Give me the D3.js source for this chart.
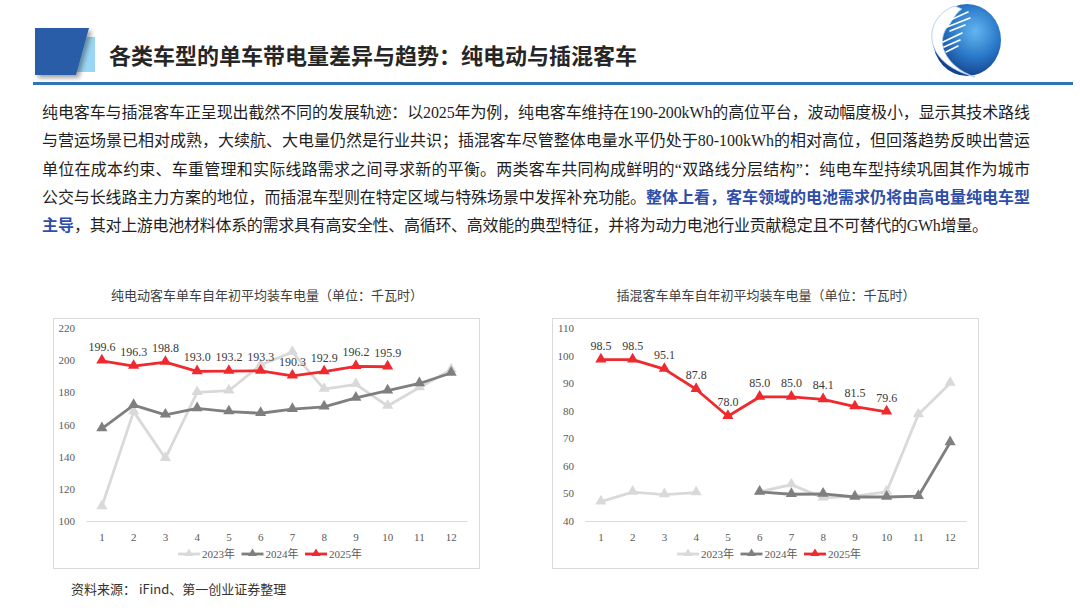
<!DOCTYPE html>
<html>
<head>
<meta charset="utf-8">
<script src="https://cdn.jsdelivr.net/npm/d3@7"></script>
<style>
  body { margin: 0; background: #fff; }
  svg text { font-family: "Liberation Serif", "Noto Sans CJK SC", serif; }
</style>
</head>
<body>
<svg id="page" width="1080" height="608"></svg>
<script>
// ---------- data ----------
const months = ['1', '2', '3', '4', '5', '6', '7', '8', '9', '10', '11', '12'];
const yearNames = ['2023年', '2024年', '2025年'];
const yearColors = ['#d9d9d9', '#7f7f7f', '#ee2a2e'];

// pure electric buses (kWh)
const bevTicks = [100, 120, 140, 160, 180, 200, 220];
const bev2023 = [109, 168, 139, 180, 181, 197, 205, 182, 185, 171.5, 183, 194];
const bev2024 = [157.5, 172, 166, 170, 168, 167, 169.5, 171, 176.5, 181, 185.5, 192];
const bev2025 = [199.6, 196.3, 198.8, 193.0, 193.2, 193.3, 190.3, 192.9, 196.2, 195.9, null, null];

// plug-in hybrid buses (kWh)
const phevTicks = [40, 50, 60, 70, 80, 90, 100, 110];
const phev2023 = [47, 50.5, 49.6, 50.3, null, 50.6, 53.2, 48.4, 49, 50.6, 78.6, 90];
const phev2024 = [null, null, null, null, null, 50.5, 49.7, 49.8, 48.7, 48.7, 49, 68.5];
const phev2025 = [98.5, 98.5, 95.1, 87.8, 78.0, 85.0, 85.0, 84.1, 81.5, 79.6, null, null];

const pageTitle = '各类车型的单车带电量差异与趋势：纯电动与插混客车';
const paragraphLines = [
  '纯电客车与插混客车正呈现出截然不同的发展轨迹：以2025年为例，纯电客车维持在190-200kWh的高位平台，波动幅度极小，显示其技术路线',
  '与营运场景已相对成熟，大续航、大电量仍然是行业共识；插混客车尽管整体电量水平仍处于80-100kWh的相对高位，但回落趋势反映出营运',
  '单位在成本约束、车重管理和实际线路需求之间寻求新的平衡。两类客车共同构成鲜明的“双路线分层结构”：纯电车型持续巩固其作为城市',
  '公交与长线路主力方案的地位，而插混车型则在特定区域与特殊场景中发挥补充功能。'
];
const highlightA = '整体上看，客车领域的电池需求仍将由高电量纯电车型';
const highlightB = '主导';
const lastLine = '，其对上游电池材料体系的需求具有高安全性、高循环、高效能的典型特征，并将为动力电池行业贡献稳定且不可替代的GWh增量。';
const sourceNote = '资料来源： iFind、第一创业证券整理';

const svg = d3.select('#page');
const cjk = '"Noto Sans CJK SC", sans-serif';
const serifCjk = '"Liberation Serif", "Noto Sans CJK SC", serif';

// ---------- header ----------
const defs = svg.append('defs');
const shadow = defs.append('filter').attr('id', 'shadow')
  .attr('x', '-20%').attr('y', '-20%').attr('width', '150%').attr('height', '150%');
shadow.append('feDropShadow')
  .attr('dx', 3).attr('dy', 3).attr('stdDeviation', 2)
  .attr('flood-color', '#000').attr('flood-opacity', 0.35);

svg.append('rect')
  .attr('x', 77).attr('y', 37).attr('width', 18).attr('height', 35)
  .attr('fill', '#9ad5f4');
svg.append('path')
  .attr('d', 'M35,28 L89,28 L76,75 L35,75 Z')
  .attr('fill', '#2a5da7')
  .attr('filter', 'url(#shadow)');

svg.append('text')
  .attr('x', 109).attr('y', 64)
  .style('font-family', cjk)
  .style('font-size', '22px')
  .style('font-weight', 700)
  .attr('fill', '#262626')
  .text(pageTitle);

svg.append('rect')
  .attr('x', 33).attr('y', 82).attr('width', 1040).attr('height', 3)
  .attr('fill', '#2e75b6');

// logo: blue globe with white crescent
const globe = defs.append('radialGradient').attr('id', 'globe')
  .attr('cx', '62%').attr('cy', '38%').attr('r', '65%');
globe.append('stop').attr('offset', '0%').attr('stop-color', '#62b6f0');
globe.append('stop').attr('offset', '55%').attr('stop-color', '#2a78c8');
globe.append('stop').attr('offset', '100%').attr('stop-color', '#153f8a');
svg.append('ellipse')
  .attr('cx', 967).attr('cy', 40).attr('rx', 34).attr('ry', 36)
  .attr('fill', 'url(#globe)');
svg.append('path')
  .attr('d', 'M955,6 C924,16 918,62 975,77 C944,66 934,40 950,24 C953,19 956,13 962,9 Z')
  .attr('fill', '#ffffff')
  .attr('stroke', '#9cc9ee').attr('stroke-width', 0.8);
svg.append('g')
  .attr('stroke', '#ffffff').attr('stroke-width', 1.6).attr('fill', 'none')
  .attr('stroke-linecap', 'round')
  .selectAll('path')
  .data(['M946,22 L968,12', 'M947,27 L970,18', 'M950,31 L965,25',
         'M943,42 L962,33', 'M944,47 L960,40', 'M946,52 L958,46'])
  .join('path')
  .attr('d', d => d);

// ---------- paragraph ----------
const paraX = 42, paraRight = 1030, lineGap = 28.3, firstBase = 118;
const para = svg.append('g')
  .style('font-family', serifCjk)
  .style('font-size', '16px')
  .attr('fill', '#1f1f1f');

paragraphLines.slice(0, 3).forEach((t, i) => {
  para.append('text')
    .attr('x', paraX).attr('y', firstBase + i * lineGap)
    .attr('textLength', paraRight - paraX)
    .attr('lengthAdjust', 'spacing')
    .text(t);
});
para.append('text')
  .attr('x', paraX).attr('y', firstBase + 3 * lineGap)
  .attr('textLength', 646 - paraX)
  .attr('lengthAdjust', 'spacing')
  .text(paragraphLines[3]);
para.append('text')
  .attr('x', 646).attr('y', firstBase + 3 * lineGap)
  .attr('textLength', paraRight - 646)
  .attr('lengthAdjust', 'spacing')
  .attr('fill', '#2f4ea8')
  .style('font-weight', 700)
  .text(highlightA);
para.append('text')
  .attr('x', paraX).attr('y', firstBase + 4 * lineGap)
  .attr('fill', '#2f4ea8')
  .style('font-weight', 700)
  .text(highlightB);
para.append('text')
  .attr('x', 74).attr('y', firstBase + 4 * lineGap)
  .attr('textLength', 988 - 74)
  .attr('lengthAdjust', 'spacing')
  .text(lastLine);

// ---------- chart class ----------
class MonthlyLineChart {

  constructor(_config, series) {
    this.config = {
      parent: _config.parent,
      left: _config.left,
      top: _config.top,
      containerWidth: 426,
      containerHeight: 250,
      title: _config.title,
      yDomain: _config.yDomain,
      yTicks: _config.yTicks,
      margin: { top: 10, right: 12, bottom: 47, left: 33 }
    };
    this.series = series;
    this.initVis();
  }

  initVis() {
    let vis = this;
    const c = vis.config;

    c.width = c.containerWidth - c.margin.left - c.margin.right;
    c.height = c.containerHeight - c.margin.top - c.margin.bottom;

    vis.root = c.parent.append('g')
      .attr('transform', `translate(${c.left},${c.top})`);

    // light frame round the chart
    vis.root.append('rect')
      .attr('x', 0.5).attr('y', 0.5)
      .attr('width', c.containerWidth).attr('height', c.containerHeight)
      .attr('fill', '#fff')
      .attr('stroke', '#d9d9d9');

    vis.root.append('text')
      .attr('x', c.containerWidth / 2 + 1)
      .attr('y', -18)
      .attr('text-anchor', 'middle')
      .style('font-family', cjk)
      .style('font-size', '13px')
      .attr('fill', '#404040')
      .text(c.title);

    vis.chart = vis.root.append('g')
      .attr('transform', `translate(${c.margin.left},${c.margin.top})`);

    vis.xScale = d3.scaleBand()
      .domain(months)
      .range([0, c.width]);
    vis.yScale = d3.scaleLinear()
      .domain(c.yDomain)
      .range([c.height, 0]);

    vis.xAxis = d3.axisBottom(vis.xScale).tickSize(0).tickPadding(12);
    vis.yAxis = d3.axisLeft(vis.yScale).tickValues(c.yTicks).tickSize(0).tickPadding(11);

    vis.updateVis();
  }

  updateVis() {
    let vis = this;
    vis.lineData = vis.series.map((values, k) => ({
      name: yearNames[k],
      color: yearColors[k],
      labels: k === 2,
      points: values.map((v, i) => ({ month: months[i], value: v }))
    }));
    vis.renderVis();
  }

  renderVis() {
    let vis = this;
    const c = vis.config;
    const cx = d => vis.xScale(d.month) + vis.xScale.bandwidth() / 2;
    const tri = d3.symbol().type(d3.symbolTriangle).size(54);

    const yG = vis.chart.append('g').attr('class', 'y-axis').call(vis.yAxis);
    yG.select('.domain').remove();
    yG.selectAll('text')
      .style('font-family', serifCjk)
      .style('font-size', '11px')
      .attr('fill', '#595959');

    const xG = vis.chart.append('g').attr('class', 'x-axis')
      .attr('transform', `translate(0,${c.height})`)
      .call(vis.xAxis);
    xG.select('.domain').attr('stroke', '#d9d9d9').attr('stroke-width', 1.2);
    xG.selectAll('text')
      .style('font-family', serifCjk)
      .style('font-size', '11px')
      .attr('fill', '#595959');

    const line = d3.line()
      .defined(d => d.value !== null)
      .x(cx)
      .y(d => vis.yScale(d.value));

    const groups = vis.chart.selectAll('.series')
      .data(vis.lineData)
      .join('g')
      .attr('class', 'series');

    groups.append('path')
      .attr('fill', 'none')
      .attr('stroke', d => d.color)
      .attr('stroke-width', 2.8)
      .attr('stroke-linejoin', 'round')
      .attr('d', d => line(d.points));

    groups.selectAll('.marker')
      .data(d => d.points.filter(p => p.value !== null).map(p => ({ ...p, color: d.color })))
      .join('path')
      .attr('class', 'marker')
      .attr('transform', d => `translate(${cx(d)},${vis.yScale(d.value) - 0.5})`)
      .attr('d', tri)
      .attr('fill', d => d.color);

    groups.filter(d => d.labels)
      .selectAll('.value-label')
      .data(d => d.points.filter(p => p.value !== null))
      .join('text')
      .attr('class', 'value-label')
      .attr('x', cx)
      .attr('y', d => vis.yScale(d.value) - 10)
      .attr('text-anchor', 'middle')
      .style('font-family', serifCjk)
      .style('font-size', '12px')
      .attr('fill', '#3a3a3a')
      .text(d => d.value.toFixed(1));

    // legend
    const legend = vis.root.append('g')
      .attr('transform', `translate(125,${c.containerHeight - 14})`);
    const item = legend.selectAll('g')
      .data(vis.lineData)
      .join('g')
      .attr('transform', (d, i) => `translate(${i * 63.5},0)`);
    item.append('line')
      .attr('x1', 0).attr('x2', 22)
      .attr('stroke', d => d.color)
      .attr('stroke-width', 2.8);
    item.append('path')
      .attr('transform', 'translate(11,-0.5)')
      .attr('d', d3.symbol().type(d3.symbolTriangle).size(34))
      .attr('fill', d => d.color);
    item.append('text')
      .attr('x', 24).attr('y', 4)
      .style('font-family', serifCjk)
      .style('font-size', '11px')
      .attr('fill', '#595959')
      .text(d => d.name);
  }
}

new MonthlyLineChart({
  parent: svg, left: 53, top: 318,
  title: '纯电动客车单车自年初平均装车电量（单位：千瓦时）',
  yDomain: [100, 220], yTicks: bevTicks
}, [bev2023, bev2024, bev2025]);

new MonthlyLineChart({
  parent: svg, left: 552, top: 318,
  title: '插混客车单车自年初平均装车电量（单位：千瓦时）',
  yDomain: [40, 110], yTicks: phevTicks
}, [phev2023, phev2024, phev2025]);

// ---------- source note ----------
svg.append('text')
  .attr('x', 71).attr('y', 594)
  .style('font-family', cjk)
  .style('font-size', '13px')
  .attr('fill', '#333')
  .text(sourceNote);
</script>
</body>
</html>
